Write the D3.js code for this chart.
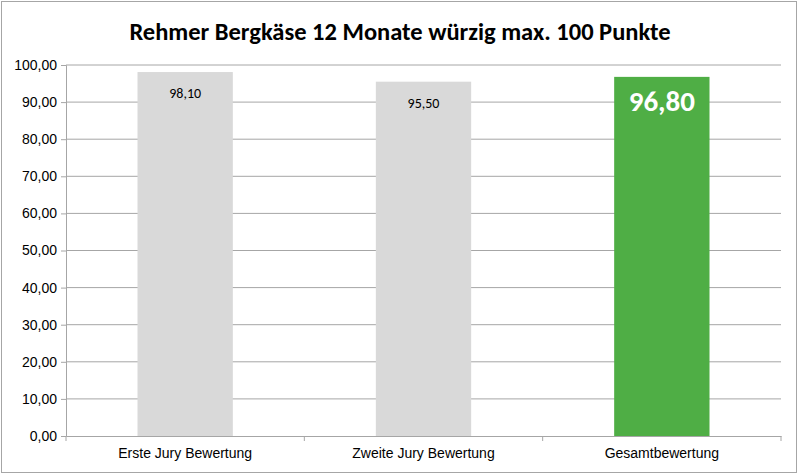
<!DOCTYPE html>
<html><head><meta charset="utf-8">
<script src="https://cdn.jsdelivr.net/npm/d3@7"></script>
<style>body{margin:0;background:#fff}</style>
</head><body>
<div id="chart"></div>
<script>
// data
const categories = ["Erste Jury Bewertung", "Zweite Jury Bewertung", "Gesamtbewertung"];
const values = [98.10, 95.50, 96.80];
const barColors = ["#d9d9d9", "#d9d9d9", "#4fae45"];
const yTicks = [0, 10, 20, 30, 40, 50, 60, 70, 80, 90, 100];
const title = "Rehmer Bergkäse 12 Monate würzig max. 100 Punkte";

const margin = {top: 65, right: 19, bottom: 40, left: 66},
width = 800 - margin.left - margin.right,
height = 476 - margin.top - margin.bottom;

const root = d3.select("#chart").append("svg")
.attr("width", 800).attr("height", 476)
.style("font-family", "Calibri, Carlito, Lato, sans-serif");

root.append("rect").attr("x", 1.5).attr("y", 1.5).attr("width", 795).attr("height", 471)
.attr("fill", "#fff").attr("stroke", "#a6a6a6");

root.append("text").attr("x", 400).attr("y", 40).attr("text-anchor", "middle")
.attr("font-size", 24.5).attr("font-weight", "bold").attr("fill", "#000").text(title);

const svg = root.append("g").attr("transform", `translate(${margin.left},${margin.top})`);

const fmt = v => d3.format(".2f")(v).replace(".", ",");

const x = d3.scaleBand().domain(categories).range([0, width]).paddingInner(0.6).paddingOuter(0.3);
const y = d3.scaleLinear().domain([0, 100]).range([height, 0]);

// gridlines
svg.append("g").selectAll("line").data(yTicks.slice(1)).join("line")
.attr("x1", 0).attr("x2", width).attr("y1", d => y(d)).attr("y2", d => y(d))
.attr("stroke", "#a6a6a6").attr("stroke-width", 1);

// y axis
const ya = svg.append("g").call(d3.axisLeft(y).tickValues(yTicks).tickFormat(fmt).tickSize(5).tickPadding(4));
ya.select(".domain").attr("stroke", "#a6a6a6");
ya.selectAll(".tick line").attr("stroke", "#a6a6a6");
ya.selectAll("text").attr("font-size", 14).attr("fill", "#000").style("font-family", "inherit");

// x axis
const step = width / categories.length;
const xa = svg.append("g").attr("transform", `translate(0,${height})`)
.call(d3.axisBottom(x).tickSize(0).tickPadding(12));
xa.select(".domain").attr("stroke", "#a6a6a6");
xa.selectAll("text").attr("font-size", 14).attr("fill", "#000").style("font-family", "inherit");
xa.selectAll(".sep").data(d3.range(categories.length + 1)).join("line")
.attr("x1", i => i * step).attr("x2", i => i * step).attr("y1", 0).attr("y2", 5)
.attr("stroke", "#a6a6a6");

// bars
svg.selectAll(".bar").data(values).join("rect")
.attr("x", (d, i) => x(categories[i])).attr("y", d => y(d))
.attr("width", x.bandwidth()).attr("height", d => height - y(d))
.attr("fill", (d, i) => barColors[i]);

// labels
svg.selectAll(".lbl").data(values).join("text")
.attr("x", (d, i) => x(categories[i]) + x.bandwidth() / 2)
.attr("y", (d, i) => y(d) + (i === 2 ? 34 : 26))
.attr("text-anchor", "middle")
.attr("font-size", (d, i) => i === 2 ? 29 : 14)
.attr("font-weight", (d, i) => i === 2 ? "bold" : "normal")
.attr("fill", (d, i) => i === 2 ? "#fff" : "#000")
.text(d => fmt(d));
</script>
</body></html>
